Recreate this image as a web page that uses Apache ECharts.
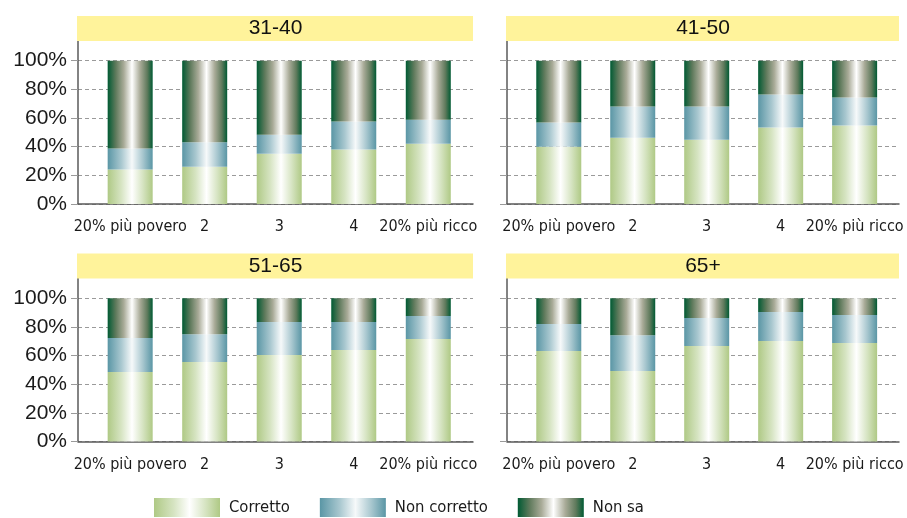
<!DOCTYPE html>
<html>
<head>
<meta charset="utf-8">
<script src="https://cdn.jsdelivr.net/npm/echarts@6/dist/echarts.min.js"></script>
<style>
  html, body { margin: 0; padding: 0; background: #fff; }
  #chart { width: 907px; height: 518px; }
</style>
</head>
<body>
<div id="chart"></div>
<script>
// Quintili di reddito (asse orizzontale di ogni pannello)
const quintiles = ['20% più povero', '2', '3', '4', '20% più ricco'];
// Classi di età, una per pannello
const ageGroups = ['31-40', '41-50', '51-65', '65+'];
const seriesNames = ['Corretto', 'Non corretto', 'Non sa'];
const yTicks = [0, 20, 40, 60, 80, 100];

// Quote di risposte (%) per quintile, una riga per classe di età
const corretto = [
  [24, 26, 35, 38, 42],
  [40, 46.3, 44.9, 53.3, 54.7],
  [48.5, 55.5, 60.3, 63.8, 71.5],
  [63.1, 49.2, 66.6, 70.1, 68.7]
];
const nonCorretto = [
  [14.7, 17, 13.4, 19.6, 16.8],
  [16.8, 21.7, 23.1, 23.1, 19.6],
  [23.7, 19.4, 23, 19.5, 16],
  [18.8, 25, 19.5, 20.2, 19.5]
];
const nonSa = [
  [61.3, 57, 51.6, 42.4, 41.2],
  [43.2, 32, 32, 23.6, 25.7],
  [27.8, 25.1, 16.7, 16.7, 12.5],
  [18.1, 25.8, 13.9, 9.7, 11.8]
];

const narrow = "'DejaVu Sans Condensed', 'Liberation Sans', sans-serif";
const regular = "'Liberation Sans', 'DejaVu Sans', sans-serif";

function grad(stops) {
  return new echarts.graphic.LinearGradient(0, 0, 1, 0,
    stops.map(s => ({ offset: s[0], color: s[1] })));
}
const fills = [
  grad([[0, '#afc985'], [0.3, '#d6e4c2'], [0.54, '#ffffff'], [0.78, '#d6e4c2'], [1, '#afc985']]),
  grad([[0, '#5a96a5'], [0.3, '#a8c7cf'], [0.54, '#f6f9fa'], [0.78, '#a8c7cf'], [1, '#5a96a5']]),
  grad([[0, '#005a33'], [0.18, '#5f7a5c'], [0.36, '#a9ab98'], [0.54, '#ffffff'], [0.72, '#a9ab98'], [0.88, '#5f7a5c'], [1, '#005a33']])
];
const values = [corretto, nonCorretto, nonSa];

// Rettangoli dei quattro pannelli
const panels = [
  { left: 78, top: 32, width: 395, height: 172 },
  { left: 507, top: 32, width: 392, height: 172 },
  { left: 78, top: 269.5, width: 395, height: 172 },
  { left: 507, top: 269.5, width: 392, height: 172 }
];

const grid = [], xAxis = [], yAxis = [], series = [], graphics = [];
panels.forEach((p, i) => {
  grid.push({ left: p.left, top: p.top, width: p.width, height: p.height, containLabel: false });
  xAxis.push({
    type: 'value', gridIndex: i, min: -0.7, max: 4.6,
    splitLine: { show: false },
    axisTick: { show: false },
    axisLine: { show: true, onZero: false, lineStyle: { color: '#5a5a5a', width: 1.5 } },
    axisLabel: {
      customValues: [0, 1, 2, 3, 4],
      formatter: v => quintiles[Math.round(v)] || '',
      margin: 15, fontFamily: narrow, fontSize: 16, color: '#1a1a1a'
    }
  });
  yAxis.push({
    type: 'value', gridIndex: i, min: 0, max: 120, interval: 20,
    axisLine: { show: true, onZero: false, lineStyle: { color: '#5a5a5a', width: 1.5 } },
    axisTick: { show: true, customValues: yTicks, length: 7, lineStyle: { color: '#9a9a9a', width: 1 } },
    splitLine: { show: true, lineStyle: { color: '#9a9a9a', type: [4, 3], width: 1 } },
    axisLabel: {
      show: i % 2 === 0,
      customValues: yTicks,
      formatter: v => v + '%',
      margin: 11, fontFamily: regular, fontSize: 21, color: '#1a1a1a'
    }
  });
  seriesNames.forEach((name, k) => {
    series.push({
      type: 'bar', name, stack: 'p' + i,
      xAxisIndex: i, yAxisIndex: i,
      barWidth: 45,
      itemStyle: { color: fills[k] },
      emphasis: { disabled: true },
      // valore nella prima colonna, così l'impilamento avviene sull'asse y
      dimensions: ['quota', 'quintile'],
      encode: { x: 1, y: 0 },
      data: values[k][i].map((v, j) => [v, j])
    });
  });
  // Fascia del titolo sopra il pannello
  const zeroY = p.top + p.height;
  graphics.push({
    type: 'rect', z: 100,
    shape: { x: p.left - 1, y: zeroY - 188, width: p.width + 1, height: 25 },
    style: { fill: '#fff39b' }
  });
  graphics.push({
    type: 'text', z: 101,
    x: p.left + p.width / 2, y: zeroY - 175.5,
    style: {
      text: ageGroups[i], fill: '#111', font: '21px ' + regular,
      textAlign: 'center', textVerticalAlign: 'middle'
    }
  });
});

const chart = echarts.init(document.getElementById('chart'), null, { renderer: 'canvas' });
chart.setOption({
  animation: false,
  backgroundColor: '#ffffff',
  grid, xAxis, yAxis, series,
  graphic: { elements: graphics },
  legend: {
    data: seriesNames,
    left: 154, top: 498, padding: 0,
    itemWidth: 66, itemHeight: 19, itemGap: 30,
    icon: 'rect',
    selectedMode: false,
    textStyle: { fontFamily: narrow, fontSize: 16.5, color: '#1a1a1a', padding: [0, 0, 0, 4] }
  }
});
</script>
</body>
</html>
